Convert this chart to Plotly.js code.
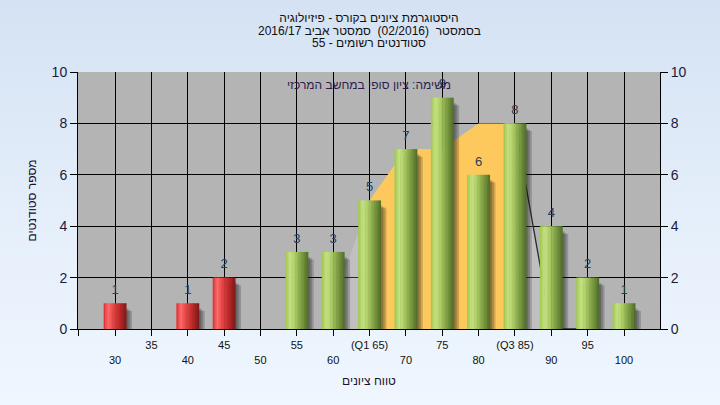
<!DOCTYPE html>
<html>
<head>
<meta charset="utf-8">
<script src="https://cdn.plot.ly/plotly-3.0.1.min.js"></script>
<style>
  html, body { margin: 0; padding: 0; }
  body { width: 720px; height: 405px; background: linear-gradient(to bottom, #d4e2f3 0%, #e4eefa 50%, #eff6fe 100%); }
  #chart { width: 720px; height: 405px; }
</style>
</head>
<body>
<div id="chart"></div>
<script>
// ---- data ----
const categories = [30, 35, 40, 45, 50, 55, 60, 65, 70, 75, 80, 85, 90, 95, 100];
const counts     = [1, 0, 1, 2, 0, 3, 3, 5, 7, 9, 6, 8, 4, 2, 1];
const tickLabels = ['30', '35', '40', '45', '50', '55', '60', '(Q1 65)', '70', '75', '80', '(Q3 85)', '90', '95', '100'];
const passMark = 55;
const q1 = 65;
const q3 = 85;
const curveX = [60, 65, 70, 75, 80, 85, 90, 95];
const curveY = [1, 5, 7, 7, 8, 8, 0, 0];
const titleLines = [
  'היסטוגרמת ציונים בקורס - פיזיולוגיה',
  'בסמסטר  (02/2016)  סמסטר אביב 2016/17',
  'סטודנטים רשומים - 55'
];
const noteText = 'משימה: ציון סופי במחשב המרכזי';
const xTitle = 'טווח ציונים';
const yTitle = 'מספר סטודנטים';

// ---- helpers ----
const idx = categories.map((c, i) => i);
const toIdx = v => categories.indexOf(v);
function hexToRgb(h) { return [parseInt(h.slice(1,3),16), parseInt(h.slice(3,5),16), parseInt(h.slice(5,7),16)]; }
function lerpStops(stops, t) {
  for (let k = 0; k < stops.length - 1; k++) {
    const [t0, c0] = stops[k], [t1, c1] = stops[k+1];
    if (t >= t0 && t <= t1) {
      const f = (t - t0) / (t1 - t0);
      const a = hexToRgb(c0), b = hexToRgb(c1);
      return 'rgb(' + a.map((v, j) => Math.round(v + (b[j] - v) * f)).join(',') + ')';
    }
  }
  return stops[stops.length - 1][1];
}
const greenStops = [[0,'#9cc54a'],[0.2,'#c6e284'],[0.38,'#b2d36a'],[0.62,'#8aab4a'],[0.84,'#688736'],[1,'#4c6a26']];
const redStops   = [[0,'#dc2c2c'],[0.2,'#ff6c6c'],[0.4,'#e84646'],[0.7,'#bb2828'],[1,'#7c1616']];

const FONT = 'Liberation Sans, Arial, DejaVu Sans, sans-serif';
const traces = [];

// curve area on the main (lower) subplot: light outside the quartiles, orange inside
const cIdx = curveX.map(toIdx);
traces.push({
  type: 'scatter', mode: 'lines', x: cIdx, y: curveY, fill: 'tozeroy',
  fillcolor: 'rgba(255,255,255,0.16)', line: {width: 0, color: 'rgba(0,0,0,0)'}, hoverinfo: 'skip'
});
const inQ = curveX.map((v, i) => i).filter(i => curveX[i] >= q1 && curveX[i] <= q3);
traces.push({
  type: 'scatter', mode: 'lines', x: inQ.map(i => cIdx[i]), y: inQ.map(i => curveY[i]), fill: 'tozeroy',
  fillcolor: '#fec95c', line: {width: 0, color: 'rgba(0,0,0,0)'}, hoverinfo: 'skip'
});
const afterQ = curveX.map((v, i) => i).filter(i => curveX[i] >= q3);
traces.push({
  type: 'scatter', mode: 'lines', x: afterQ.map(i => cIdx[i]), y: afterQ.map(i => curveY[i]),
  line: {width: 1.3, color: '#2a2a2a'}, hoverinfo: 'skip'
});

// bar shadows (overlay subplot, drawn above the area)
const barW = 0.63;
for (let k = 0; k < 3; k++) {
  traces.push({
    type: 'bar', x: idx, y: counts.map(c => c > 0 ? c - 0.2 - 0.05 * k : null), yaxis: 'y2',
    offset: -barW / 2 + 0.05 + 0.05 * k, width: barW,
    marker: {color: 'rgba(20,20,20,0.2)', line: {width: 0}}, hoverinfo: 'skip'
  });
}

// bars as vertical gradient strips
const nStrips = 16;
for (let s = 0; s < nStrips; s++) {
  const t = (s + 0.5) / nStrips;
  traces.push({
    type: 'bar', x: idx, y: counts, yaxis: 'y2',
    offset: -barW / 2 + s * barW / nStrips,
    width: barW / nStrips + (s < nStrips - 1 ? 0.012 : 0),
    marker: {color: categories.map(c => c < passMark ? lerpStops(redStops, t) : lerpStops(greenStops, t)), line: {width: 0}},
    hoverinfo: 'skip'
  });
}

// value labels
traces.push({
  type: 'scatter', mode: 'markers+text', x: idx, y: counts, yaxis: 'y2',
  text: counts.map(c => c > 0 ? String(c) : ''),
  marker: {size: 8, opacity: 0},
  textposition: 'top center', cliponaxis: false,
  textfont: {family: FONT, size: 13, color: '#23405e'}, hoverinfo: 'skip'
});

const axisFontY = {family: FONT, size: 14, color: '#1a1a3a'};
const layout = {
  width: 720, height: 405,
  margin: {l: 78, r: 60, t: 72, b: 76},
  paper_bgcolor: 'rgba(0,0,0,0)', plot_bgcolor: '#b4b4b4',
  barmode: 'overlay', showlegend: false,
  font: {family: FONT, color: '#111'},
  title: {text: titleLines[0], x: 0.5, xref: 'paper', xanchor: 'center', y: 1 - 18 / 405, yref: 'container', yanchor: 'middle',
          font: {family: FONT, size: 12, color: '#111'}},
  xaxis: {
    type: 'linear', range: [-1.02, 14.99],
    tickvals: [-1].concat(idx),
    ticktext: [''].concat(tickLabels.map((t, i) => i % 2 === 0 ? ' <br>' + t : t)),
    ticks: 'outside', ticklen: 6, tickcolor: '#000', tickwidth: 1,
    showgrid: true, gridcolor: '#000', gridwidth: 1,
    showline: true, linecolor: '#000', linewidth: 1, zeroline: false,
    tickfont: {family: FONT, size: 11, color: '#111'},
    title: {text: xTitle, font: {family: FONT, size: 12, color: '#1a1030'}, standoff: 12}
  },
  yaxis: {
    range: [0, 10], dtick: 2, tick0: 0,
    ticks: 'outside', ticklen: 7, tickcolor: '#000',
    showgrid: true, gridcolor: '#000', gridwidth: 1,
    showline: true, linecolor: '#000', zeroline: false,
    tickfont: axisFontY,
    title: {text: yTitle, font: {family: FONT, size: 12, color: '#1a1030'}, standoff: 12}
  },
  yaxis2: {
    overlaying: 'y', side: 'right', range: [0, 10], dtick: 2, tick0: 0,
    ticks: 'outside', ticklen: 7, tickcolor: '#000',
    showgrid: false, showline: true, linecolor: '#000', zeroline: false,
    tickfont: axisFontY
  },
  annotations: [
    {text: titleLines[1], xref: 'paper', yref: 'paper', x: 0.5, y: (329 - 31) / 257, xanchor: 'center', yanchor: 'middle', showarrow: false,
     font: {family: FONT, size: 12, color: '#111'}},
    {text: titleLines[2], xref: 'paper', yref: 'paper', x: 0.5, y: (329 - 43) / 257, xanchor: 'center', yanchor: 'middle', showarrow: false,
     font: {family: FONT, size: 12, color: '#111'}},
    {text: noteText, xref: 'paper', yref: 'paper', x: 0.5, y: (329 - 85) / 257, xanchor: 'center', yanchor: 'middle', showarrow: false,
     font: {family: FONT, size: 12, color: '#2b1d4d'}}
  ]
};

Plotly.newPlot('chart', traces, layout, {staticPlot: true, displayModeBar: false});
</script>
</body>
</html>
